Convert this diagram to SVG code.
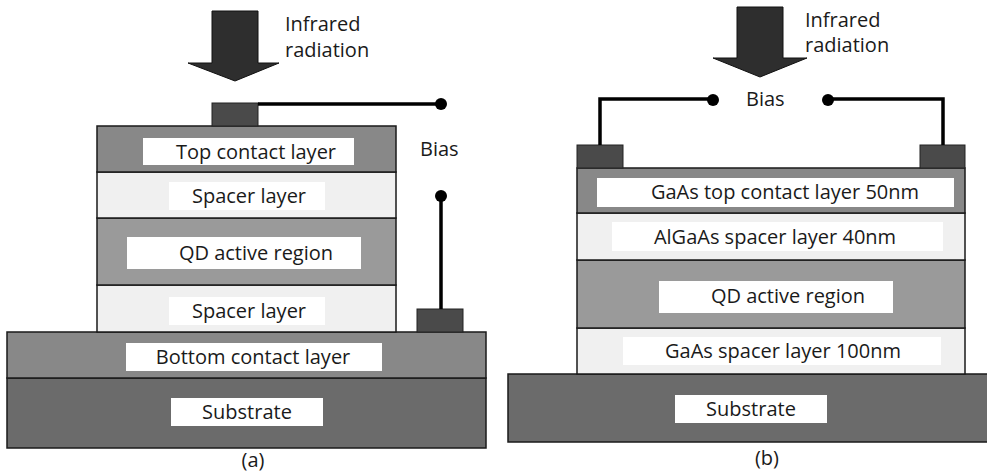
<svg xmlns="http://www.w3.org/2000/svg" width="987" height="475" viewBox="0 0 987 475">
  <style>
    text { font-family: "Open Sans", "DejaVu Sans", sans-serif; fill: #1a1a1a; }
    .lbl { font-size: 20px; text-anchor: middle; }
    .cap { font-size: 20px; }
    .box { fill: #ffffff; }
    .layer { stroke: #1a1a1a; stroke-width: 1.5; }
    .contact { fill: #4a4a4a; stroke: #222; stroke-width: 1; }
    .light { fill: #f0f0f0; }
    .mid { fill: #888888; }
    .qd { fill: #9a9a9a; }
    .sub { fill: #6b6b6b; }
    .wire { fill: none; stroke: #000; stroke-width: 3.5; }
    .term { fill: #000; }
    .arrow { fill: #2e2e2e; stroke: #111; stroke-width: 1; }
  </style>

  <!-- Panel (a) -->
  <g id="a-arrow">
    <polygon class="arrow" points="212,11 258,11 258,63 279,63 235,81 188,63 212,63"/>
    <text class="cap" x="285" y="31">Infrared</text>
    <text class="cap" x="285" y="57">radiation</text>
  </g>

  <g id="a-substrate">
    <rect class="layer sub" x="7" y="378" width="479" height="70"/>
    <rect class="box" x="171" y="398" width="152" height="28"/>
    <text class="lbl" x="247" y="419">Substrate</text>
  </g>
  <g id="a-bottom-contact">
    <rect class="layer mid" x="7" y="332" width="479" height="46"/>
    <rect class="box" x="126" y="343" width="256" height="28"/>
    <text class="lbl" x="253" y="364">Bottom contact layer</text>
  </g>
  <g id="a-spacer-lower">
    <rect class="layer light" x="97" y="285" width="299" height="47"/>
    <rect class="box" x="169" y="297" width="156" height="28"/>
    <text class="lbl" x="249" y="318">Spacer layer</text>
  </g>
  <g id="a-qd">
    <rect class="layer qd" x="97" y="218" width="299" height="67"/>
    <rect class="box" x="127" y="237" width="234" height="32"/>
    <text class="lbl" x="256" y="260">QD active region</text>
  </g>
  <g id="a-spacer-upper">
    <rect class="layer light" x="97" y="172" width="299" height="46"/>
    <rect class="box" x="169" y="182" width="156" height="28"/>
    <text class="lbl" x="249" y="203">Spacer layer</text>
  </g>
  <g id="a-top-contact">
    <rect class="layer mid" x="97" y="126" width="299" height="46"/>
    <rect class="box" x="143" y="138" width="211" height="27"/>
    <text class="lbl" x="256" y="159">Top contact layer</text>
  </g>
  <g id="a-top-pad">
    <rect class="contact" x="212" y="103" width="46" height="23"/>
  </g>
  <g id="a-bottom-pad">
    <rect class="contact" x="417" y="309" width="46" height="23"/>
  </g>
  <g id="a-bias">
    <text class="cap" x="420" y="156">Bias</text>
  </g>

  <!-- Panel (b) -->
  <g id="b-arrow">
    <polygon class="arrow" points="737,7 783,7 783,58 807,58 760,77 713,58 737,58"/>
    <text class="cap" x="805" y="27">Infrared</text>
    <text class="cap" x="805" y="52">radiation</text>
  </g>
  <g id="b-bias">
    <text class="cap" x="746" y="106">Bias</text>
  </g>

  <g id="b-substrate">
    <rect class="layer sub" x="508" y="374" width="485" height="68"/>
    <rect class="box" x="675" y="395" width="152" height="28"/>
    <text class="lbl" x="751" y="416">Substrate</text>
  </g>
  <g id="b-gaas-spacer">
    <rect class="layer light" x="577" y="328" width="388" height="46"/>
    <rect class="box" x="623" y="337" width="318" height="28"/>
    <text class="lbl" x="783" y="358">GaAs spacer layer 100nm</text>
  </g>
  <g id="b-qd">
    <rect class="layer qd" x="577" y="260" width="388" height="68"/>
    <rect class="box" x="659" y="281" width="234" height="32"/>
    <text class="lbl" x="788" y="303">QD active region</text>
  </g>
  <g id="b-algaas-spacer">
    <rect class="layer light" x="577" y="213" width="388" height="47"/>
    <rect class="box" x="612" y="222" width="331" height="29"/>
    <text class="lbl" x="775" y="244">AlGaAs spacer layer 40nm</text>
  </g>
  <g id="b-top-contact">
    <rect class="layer mid" x="577" y="168" width="388" height="45"/>
    <rect class="box" x="597" y="178" width="357" height="29"/>
    <text class="lbl" x="785" y="199">GaAs top contact layer 50nm</text>
  </g>
  <g id="b-pad-left">
    <rect class="contact" x="577" y="145" width="46" height="23"/>
  </g>
  <g id="b-pad-right">
    <rect class="contact" x="920" y="145" width="45" height="23"/>
  </g>

  <!-- Bias wiring -->
  <g id="connectors">
    <polyline class="wire" points="258,104 441,104"/>
    <circle class="term" cx="441" cy="104" r="6"/>
    <polyline class="wire" points="441,196 441,309"/>
    <circle class="term" cx="441" cy="196" r="6"/>
    <polyline class="wire" points="600,145 600,99 713,99"/>
    <circle class="term" cx="713" cy="100" r="6"/>
    <polyline class="wire" points="943,145 943,99 828,99"/>
    <circle class="term" cx="828" cy="100" r="6"/>
  </g>

  <!-- Panel captions -->
  <g id="captions">
    <text class="lbl" x="253" y="467">(a)</text>
    <text class="lbl" x="767" y="465">(b)</text>
  </g>
</svg>
